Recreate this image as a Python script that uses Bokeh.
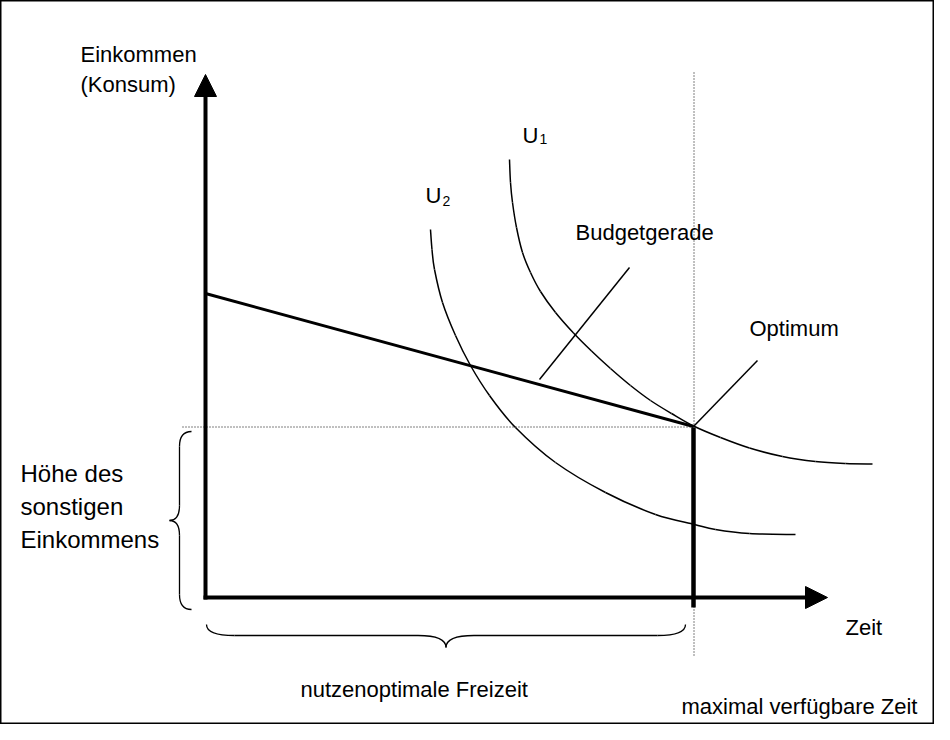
from bokeh.plotting import figure
from bokeh.models import Range1d, Arrow, NormalHead
from bokeh.embed import file_html
from bokeh.resources import INLINE

# ---- diagram data (x = time, y = income; diagram units) ----
opt_x = 488          # maximal verfügbare Zeit / optimum time
opt_y = 171          # Höhe des sonstigen Einkommens / optimum income
budget_x = [0, 488]
budget_y = [304, 171]

u1_x = [304, 305, 307, 311, 317, 325, 335, 350, 368, 386, 405, 425, 445, 466, 488, 515, 544, 577, 610, 640, 667]
u1_y = [438, 415, 395, 370, 345, 325, 306, 285, 264.5, 246.5, 229, 212, 197, 184, 171.5, 160, 149.5, 141, 136, 134, 133.5]

u2_x = [225, 226.5, 229, 237, 250, 265, 284, 310, 350, 400, 450, 489, 510, 544, 590]
u2_y = [368, 348, 328, 295, 262, 232, 202, 170, 135, 105, 83, 73, 68, 64, 63]

yaxis_top = 523
xaxis_end = 622
vline_top = 525
vline_bottom = -58

budget_leader_x = [424, 334]
budget_leader_y = [330, 218]
opt_leader_x = [488, 552]
opt_leader_y = [171, 237]

FONT = "Liberation Sans"
FS = "22px"

p = figure(width=934, height=724, output_backend="svg", toolbar_location=None,
           x_range=Range1d(-205, 729), y_range=Range1d(-127, 597), min_border=0)
p.axis.visible = False
p.grid.visible = False
p.outline_line_color = "black"
p.outline_line_width = 2
p.background_fill_color = "white"

# dotted guides (half-pixel offset keeps the 1px dots crisp)
p.line([opt_x + 0.5, opt_x + 0.5], [vline_bottom, vline_top], line_color="black", line_width=1, line_dash="1 2")
p.line([-23, opt_x], [opt_y - 0.5, opt_y - 0.5], line_color="black", line_width=1, line_dash="1 2")

# axes with arrowheads
p.add_layout(Arrow(end=NormalHead(size=22, fill_color="black", line_color="black", line_width=1),
                   x_start=0, y_start=-2, x_end=0, y_end=yaxis_top, line_width=4, line_color="black"))
p.add_layout(Arrow(end=NormalHead(size=22, fill_color="black", line_color="black", line_width=1),
                   x_start=-2, y_start=0, x_end=xaxis_end, y_end=0, line_width=4, line_color="black"))

# thick vertical at max time
p.line([opt_x, opt_x], [-10, opt_y - 1], line_color="black", line_width=4.5)

# budget line
p.line(budget_x, budget_y, line_color="black", line_width=3)


def smooth_curve(xs, ys, width=1.5):
    """Draw a smooth curve through the read points (Catmull-Rom as cubic Bezier)."""
    n = len(xs)
    x0, y0, x1, y1, cx0, cy0, cx1, cy1 = [], [], [], [], [], [], [], []
    for i in range(n - 1):
        xa, ya = xs[max(i - 1, 0)], ys[max(i - 1, 0)]
        xb, yb = xs[i], ys[i]
        xc, yc = xs[i + 1], ys[i + 1]
        xd, yd = xs[min(i + 2, n - 1)], ys[min(i + 2, n - 1)]
        x0.append(xb); y0.append(yb); x1.append(xc); y1.append(yc)
        cx0.append(xb + (xc - xa) / 6); cy0.append(yb + (yc - ya) / 6)
        cx1.append(xc - (xd - xb) / 6); cy1.append(yc - (yd - yb) / 6)
    p.bezier(x0=x0, y0=y0, x1=x1, y1=y1, cx0=cx0, cy0=cy0, cx1=cx1, cy1=cy1,
             line_color="black", line_width=width)


# indifference curves
smooth_curve(u1_x, u1_y)
smooth_curve(u2_x, u2_y)

# leaders
p.line(budget_leader_x, budget_leader_y, line_color="black", line_width=1.5)
p.line(opt_leader_x, opt_leader_y, line_color="black", line_width=1.5)


def brace_h(a, b, y0, y1, y2, r):
    m = (a + b) / 2
    p.quadratic(x0=[a, m - r, m, b - r], y0=[y0, y1, y2, y1],
                x1=[a + r, m, m + r, b], y1=[y1, y2, y1, y0],
                cx=[a, m, m, b], cy=[y1, y1, y1, y1], line_color="black", line_width=1.3)
    p.segment(x0=[a + r, m + r], y0=[y1, y1], x1=[m - r, b - r], y1=[y1, y1],
              line_color="black", line_width=1.3)


def brace_v(a, b, x0, x1, x2, r):
    m = (a + b) / 2
    p.quadratic(y0=[a, m - r, m, b - r], x0=[x0, x1, x2, x1],
                y1=[a + r, m, m + r, b], x1=[x1, x2, x1, x0],
                cy=[a, m, m, b], cx=[x1, x1, x1, x1], line_color="black", line_width=1.3)
    p.segment(y0=[a + r, m + r], x0=[x1, x1], y1=[m - r, b - r], x1=[x1, x1],
              line_color="black", line_width=1.3)


brace_h(1, 480, -27, -38, -50, 28)
brace_v(-12, 166, -14, -26, -36, 15)


# texts
def txt(x, y, s, size=FS):
    p.text(x=[x], y=[y], text=[s], text_font={"value": FONT}, text_font_size={"value": size},
           text_color="black", text_baseline="alphabetic", text_align="left")


txt(-125, 543, "Einkommen")
txt(-125, 513, "(Konsum)")
txt(-185, 124, "Höhe des", "24px")
txt(-185, 91, "sonstigen", "24px")
txt(-185, 58, "Einkommens", "24px")
txt(317, 462, "U")
txt(334, 459, "1", "14px")
txt(220, 402, "U")
txt(237, 397, "2", "14px")
txt(370, 365, "Budgetgerade")
txt(544, 269, "Optimum")
txt(640, -30, "Zeit")
txt(95, -92, "nutzenoptimale Freizeit")
txt(476, -109, "maximal verfügbare Zeit")

open("out.html", "w", encoding="utf-8").write(file_html(p, INLINE))
